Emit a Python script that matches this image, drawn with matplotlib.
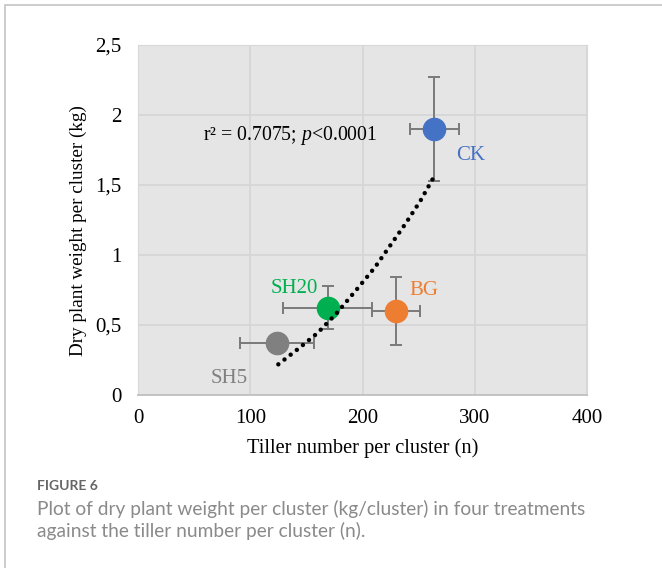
import matplotlib.pyplot as plt
from matplotlib.patches import Rectangle

plt.rcParams['mathtext.fontset'] = 'custom'
plt.rcParams['mathtext.rm'] = 'Liberation Serif'
plt.rcParams['mathtext.it'] = 'Liberation Serif:italic'

# Treatment means and standard deviations
treatments = ['CK', 'BG', 'SH20', 'SH5']
tillers = [264, 230, 169, 124]
tiller_sd = [22, 21.5, 39.5, 33]
dry_weight = [1.90, 0.60, 0.625, 0.37]
weight_sd = [0.37, 0.24, 0.157, 0.02]
colors = ['#4472c4', '#ed7d31', '#00b050', '#808080']

# Points along the fitted trend line
trend_x = [125, 143.4, 159.7, 176.4, 195.7, 211.1, 224.8, 238.5, 251.5, 263.7]
trend_y = [0.219, 0.334, 0.441, 0.579, 0.762, 0.912, 1.069, 1.226, 1.386, 1.559]

y_ticks = [0, 0.5, 1, 1.5, 2, 2.5]
y_ticklabels = ['0', '0,5', '1', '1,5', '2', '2,5']
x_ticks = [0, 100, 200, 300, 400]

# where each treatment name goes (data units, baseline)
label_pos = {'CK': (283, 1.68), 'BG': (242, 0.714), 'SH20': (118.5, 0.73), 'SH5': (65, 0.086)}

serif = ['Liberation Serif', 'DejaVu Serif']
sans = ['Lato', 'DejaVu Sans']

fig = plt.figure(figsize=(6.62, 5.68), dpi=100)
fig.patches.append(Rectangle((5 / 662, -0.1), 2, 1 - 5 / 568 + 0.1, transform=fig.transFigure,
                             facecolor='white', edgecolor='#c4c4c4', linewidth=1.2, zorder=-5))

ax = fig.add_axes([138 / 662, 1 - 395 / 568, 449 / 662, 350 / 568])
ax.set_facecolor('#e5e5e5')
ax.set_xlim(0, 400)
ax.set_ylim(0, 2.5)
ax.set_xticks(x_ticks)
ax.set_yticks(y_ticks)
ax.set_yticklabels(y_ticklabels)
ax.grid(True, color='#d6d6d6', linewidth=1.3)
ax.set_axisbelow(True)
ax.tick_params(length=0, labelsize=15)
for lab in ax.get_xticklabels() + ax.get_yticklabels():
    lab.set_family(serif)
ax.tick_params(axis='x', pad=10)
ax.tick_params(axis='y', pad=12)
for side in ['top', 'left', 'right']:
    ax.spines[side].set_color('#d8d8d8')
ax.spines['bottom'].set_color('#c0c0c0')
ax.spines['bottom'].set_linewidth(1.3)

for i, name in enumerate(treatments):
    ax.errorbar(tillers[i], dry_weight[i], xerr=tiller_sd[i], yerr=weight_sd[i],
                fmt='none', ecolor='#7a7a7a', elinewidth=1.4, capsize=4, capthick=1.4, zorder=2)
    ax.plot(tillers[i], dry_weight[i], 'o', color=colors[i], markersize=16, zorder=3)
    lx, ly = label_pos[name]
    ax.text(lx, ly, name, color=colors[i], fontsize=15, family=serif, zorder=4)

ax.plot(trend_x, trend_y, color='black', linewidth=3.2, linestyle=(0, (0.01, 1.75)),
        dash_capstyle='round', zorder=5)

ax.text(58, 1.857, 'r² = 0.7075; $\\mathit{p}$<0.0001', fontsize=14.2, family=serif, va='center')

ax.set_xlabel('Tiller number per cluster (n)', fontsize=14.7, family=serif)
ax.set_ylabel('Dry plant weight per cluster (kg)', fontsize=13.8, family=serif)
ax.xaxis.set_label_coords(0.5, -0.151)
ax.xaxis.label.set_va('center')
ax.yaxis.set_label_coords(-0.1336, 0.471)
ax.yaxis.label.set_va('center')

fig.text(37 / 662, 1 - 486 / 568, 'FIGURE 6', fontsize=10, color='#666666',
         family=sans, weight='bold', va='center')
fig.text(37 / 662, 1 - 509 / 568,
         'Plot of dry plant weight per cluster (kg/cluster) in four treatments',
         fontsize=13.8, color='#8a8a8a', family=sans, va='center')
fig.text(37 / 662, 1 - 531 / 568, 'against the tiller number per cluster (n).',
         fontsize=13.8, color='#8a8a8a', family=sans, va='center')

fig.savefig('out.png', dpi=100)
